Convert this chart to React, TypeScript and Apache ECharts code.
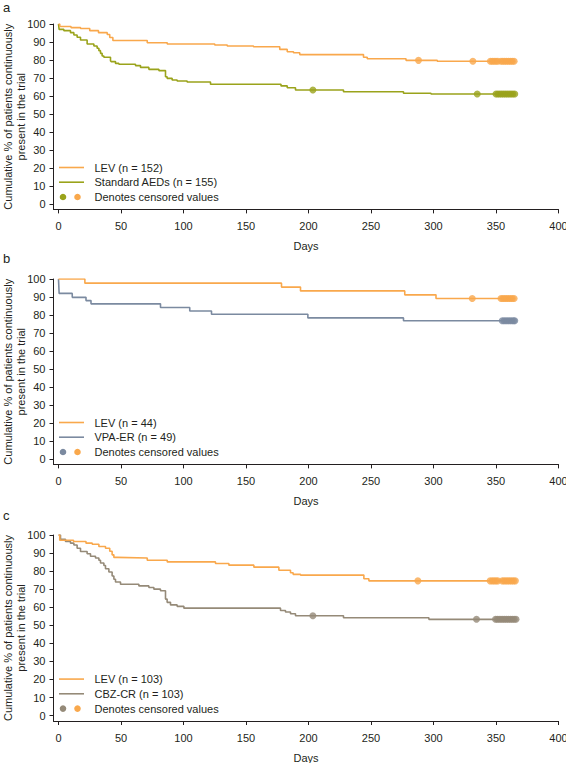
import React, { useEffect, useRef } from "react";
import * as echarts from "echarts";

// ---------- data ----------
const dayTicks = [0, 50, 100, 150, 200, 250, 300, 350, 400];
const pctTicks = [0, 10, 20, 30, 40, 50, 60, 70, 80, 90, 100];
const panelLetters = ["a", "b", "c"];
const xAxisTitle = "Days";
const yAxisTitle = "Cumulative % of patients continuously\npresent in the trial";
const censoredLabel = "Denotes censored values";

const levNames = ["LEV (n = 152)", "LEV (n = 44)", "LEV (n = 103)"];
const compNames = ["Standard AEDs (n = 155)", "VPA-ER (n = 49)", "CBZ-CR (n = 103)"];

// Panel a
const levA: number[][] = [
  [0, 100], [1, 98.6], [10, 98.0], [17.6, 97.5], [25, 96.3], [32, 95.2], [39, 94.2],
  [41, 92.5], [43.5, 90.8], [71, 89.6], [87, 88.9], [125, 88.3], [135, 87.8],
  [156, 87.4], [177, 85.9], [183, 84.6], [188, 84.0], [193, 83.0], [244, 81.5],
  [247, 80.7], [278, 79.8], [303, 79.3], [365, 79.3],
];
const levACens: number[][] = [
  [288, 79.8], [331.5, 79.3], [345.5, 79.3], [347, 79.3], [348.5, 79.3], [350, 79.3],
  [351.5, 79.3], [354, 79.3], [355.5, 79.3], [357, 79.3], [358.5, 79.3], [360, 79.3],
  [361.5, 79.3], [363, 79.3], [364.5, 79.3],
];
const aedA: number[][] = [
  [0, 100], [0.5, 97.0], [4.3, 96.3], [9.6, 95.2], [12.3, 93.9], [14.9, 92.6],
  [17.6, 91.1], [22.9, 88.9], [28.3, 87.8], [30.9, 86.5], [32.3, 85.2], [33.6, 83.7],
  [34.9, 82.2], [36.3, 81.5], [41.6, 79.6], [42.1, 79.1], [45.6, 78.1], [48.3, 77.6],
  [61.6, 76.9], [65.6, 75.9], [72.3, 74.8], [80.3, 74.1], [85.6, 70.7], [86.9, 69.8],
  [90.9, 68.9], [94.9, 68.3], [102.9, 67.8], [121.6, 66.5], [178, 65.6], [183, 64.6],
  [189.6, 63.3], [228, 62.4], [276, 61.5], [298, 61.1], [365, 61.1],
];
const aedACens: number[][] = [
  [203.5, 63.3], [335, 61.1], [350, 61.1], [351.5, 61.1], [353, 61.1], [354.5, 61.1],
  [356, 61.1], [357.5, 61.1], [359, 61.1], [360.5, 61.1], [362, 61.1], [363.5, 61.1], [365, 61.1],
];

// Panel b
const levB: number[][] = [
  [0, 100], [21.1, 97.7], [178.4, 95.5], [193.6, 93.4], [277, 91.2], [302, 89.2], [365, 89.2],
];
const levBCens: number[][] = [
  [331, 89.2], [354, 89.2], [355.5, 89.2], [357, 89.2], [358.5, 89.2], [360, 89.2],
  [361.5, 89.2], [363, 89.2], [364.5, 89.2],
];
const vpaB: number[][] = [
  [0, 100], [0.5, 92.0], [11, 89.8], [22, 88.0], [26, 86.2], [81.6, 84.2], [105, 82.2],
  [122.4, 80.4], [199.5, 78.4], [276, 76.8], [365, 76.8],
];
const vpaBCens: number[][] = [
  [355, 76.8], [356.5, 76.8], [358, 76.8], [359.5, 76.8], [361, 76.8], [362.5, 76.8], [364, 76.8], [365, 76.8],
];

// Panel c
const levC: number[][] = [
  [0, 100], [1, 97.1], [12, 96.4], [22, 95.5], [27, 94.9], [32.3, 93.6], [37.6, 92.7],
  [41, 91.0], [42.9, 89.0], [44.3, 87.6], [47, 87.3], [71, 86.0], [87, 85.1],
  [125.6, 84.2], [136.3, 83.3], [156.3, 82.2], [176.3, 80.5], [185.6, 79.1],
  [187.7, 78.2], [193.6, 77.8], [244.3, 75.8], [248.3, 74.6], [365, 74.6],
];
const levCCens: number[][] = [
  [287.5, 74.6], [345.3, 74.6], [347, 74.6], [348.5, 74.6], [350, 74.6], [351.5, 74.6],
  [355, 74.6], [356.5, 74.6], [358, 74.6], [359.5, 74.6], [361, 74.6], [362.5, 74.6],
  [364, 74.6], [365.5, 74.6],
];
const cbzC: number[][] = [
  [0, 100], [1.6, 97.6], [5.6, 96.4], [9.6, 95.5], [12.3, 94.5], [14.9, 92.7],
  [17.6, 90.9], [22.9, 89.6], [25.6, 88.2], [29.6, 87.3], [32.3, 86.0], [33.6, 84.5],
  [36.3, 83.1], [37.6, 81.3], [40.3, 79.5], [42.9, 77.3], [44.3, 75.5], [45.6, 74.0],
  [49.6, 72.7], [64.3, 71.8], [72.3, 70.9], [76.3, 70.0], [81.6, 69.1], [85.6, 64.5],
  [86.9, 62.7], [89.6, 61.3], [94.9, 60.5], [100.3, 59.5], [177.6, 58.2],
  [181.6, 57.4], [185.6, 56.4], [189.6, 55.3], [228, 54.2], [296.3, 53.3], [365, 53.3],
];
const cbzCCens: number[][] = [
  [203.5, 55.3], [334.4, 53.3], [349.6, 53.3], [351, 53.3], [352.5, 53.3], [354, 53.3],
  [355.5, 53.3], [357, 53.3], [358.5, 53.3], [360, 53.3], [361.5, 53.3], [363, 53.3],
  [364.5, 53.3], [366, 53.3],
];

const levLines = [levA, levB, levC];
const levCensored = [levACens, levBCens, levCCens];
const compLines = [aedA, vpaB, cbzC];
const compCensored = [aedACens, vpaBCens, cbzCCens];

// ---------- styles ----------
const ORANGE = "#F9A84C";
const compColors = ["#9AA31B", "#7B8AA0", "#958A78"];
const INK = "#231F20";
const FONT = "'Liberation Sans', Arial, Helvetica, sans-serif";

const GRID_LEFT = 53.5;
const GRID_W = 505;
const panelTops = [24, 279, 535];
const panelHeights = [185.4, 185.4, 186];
const Y_MIN = -3;
const X_MIN = -4;

export default function App() {
  const ref = useRef<HTMLDivElement>(null);

  useEffect(() => {
    document.body.style.margin = "0";
    const chart = echarts.init(ref.current!, undefined, { renderer: "svg" });

    const grids: any[] = [];
    const xAxes: any[] = [];
    const yAxes: any[] = [];
    const series: any[] = [];
    const graphics: any[] = [];

    for (let i = 0; i < 3; i++) {
      const top = panelTops[i];
      const h = panelHeights[i];
      grids.push({
        left: GRID_LEFT,
        top,
        width: GRID_W,
        height: h,
        containLabel: false,
        outerBoundsMode: "none",
      });
      xAxes.push({
        gridIndex: i,
        type: "value",
        min: X_MIN,
        max: 400,
        splitLine: { show: false },
        axisLine: { show: true, onZero: false, lineStyle: { color: INK, width: 1 } },
        axisTick: { show: true, length: 4, customValues: dayTicks, lineStyle: { color: INK } },
        axisLabel: { customValues: dayTicks, margin: 11, fontSize: 11, color: INK, fontFamily: FONT },
        name: xAxisTitle,
        nameLocation: "middle",
        nameGap: 31,
        nameMoveOverlap: false,
        nameTextStyle: { fontSize: 11, color: INK, fontFamily: FONT },
      });
      yAxes.push({
        gridIndex: i,
        type: "value",
        min: Y_MIN,
        max: 100,
        splitLine: { show: false },
        axisLine: { show: true, onZero: false, lineStyle: { color: INK, width: 1 } },
        axisTick: { show: true, length: 4, customValues: pctTicks, lineStyle: { color: INK } },
        axisLabel: { customValues: pctTicks, margin: 8, fontSize: 11, color: INK, fontFamily: FONT },
        name: yAxisTitle,
        nameLocation: "middle",
        nameRotate: 90,
        nameGap: 26,
        nameMoveOverlap: false,
        nameTextStyle: { fontSize: 11, color: INK, fontFamily: FONT, lineHeight: 13 },
      });

      series.push({
        name: compNames[i],
        type: "line",
        xAxisIndex: i,
        yAxisIndex: i,
        step: "end",
        showSymbol: false,
        data: compLines[i],
        lineStyle: { color: compColors[i], width: 1.6 },
        itemStyle: { color: compColors[i] },
        z: 2,
      });
      series.push({
        name: levNames[i],
        type: "line",
        xAxisIndex: i,
        yAxisIndex: i,
        step: "end",
        showSymbol: false,
        data: levLines[i],
        lineStyle: { color: ORANGE, width: 1.6 },
        itemStyle: { color: ORANGE },
        z: 3,
      });
      series.push({
        name: censoredLabel + " " + i + "c",
        type: "scatter",
        xAxisIndex: i,
        yAxisIndex: i,
        symbol: "circle",
        symbolSize: 7,
        data: compCensored[i],
        itemStyle: { color: compColors[i] },
        z: 4,
      });
      series.push({
        name: censoredLabel + " " + i + "l",
        type: "scatter",
        xAxisIndex: i,
        yAxisIndex: i,
        symbol: "circle",
        symbolSize: 7,
        data: levCensored[i],
        itemStyle: { color: ORANGE },
        z: 4,
      });

      // legend (inside plot, lower-left)
      const y0 = top + (100 / (100 - Y_MIN)) * h;
      const rows = [y0 - 36.5, y0 - 21.8, y0 - 7];
      const lx = 59;
      const tx = 94.5;
      graphics.push(
        { type: "line", shape: { x1: lx, y1: rows[0], x2: lx + 25, y2: rows[0] }, style: { stroke: ORANGE, lineWidth: 1.6 } },
        { type: "text", x: tx, y: rows[0], style: { text: levNames[i], fill: INK, font: `11px ${FONT}`, textVerticalAlign: "middle" } },
        { type: "line", shape: { x1: lx, y1: rows[1], x2: lx + 25, y2: rows[1] }, style: { stroke: compColors[i], lineWidth: 1.6 } },
        { type: "text", x: tx, y: rows[1], style: { text: compNames[i], fill: INK, font: `11px ${FONT}`, textVerticalAlign: "middle" } },
        { type: "circle", shape: { cx: 63, cy: rows[2], r: 3.3 }, style: { fill: compColors[i] } },
        { type: "circle", shape: { cx: 77.5, cy: rows[2], r: 3.3 }, style: { fill: ORANGE } },
        { type: "text", x: tx, y: rows[2], style: { text: censoredLabel, fill: INK, font: `11px ${FONT}`, textVerticalAlign: "middle" } }
      );
    }

    const letterY = [7, 258, 515];
    for (let i = 0; i < 3; i++) {
      graphics.push({
        type: "text",
        x: 3,
        y: letterY[i],
        style: { text: panelLetters[i], fill: INK, font: `13px ${FONT}`, textVerticalAlign: "middle" },
      });
    }

    chart.setOption({
      animation: false,
      backgroundColor: "#ffffff",
      grid: grids,
      xAxis: xAxes,
      yAxis: yAxes,
      series,
      graphic: graphics,
    });

    return () => chart.dispose();
  }, []);

  return (
    <div
      ref={ref}
      style={{ position: "absolute", left: 0, top: 0, width: 566, height: 763 }}
    />
  );
}
